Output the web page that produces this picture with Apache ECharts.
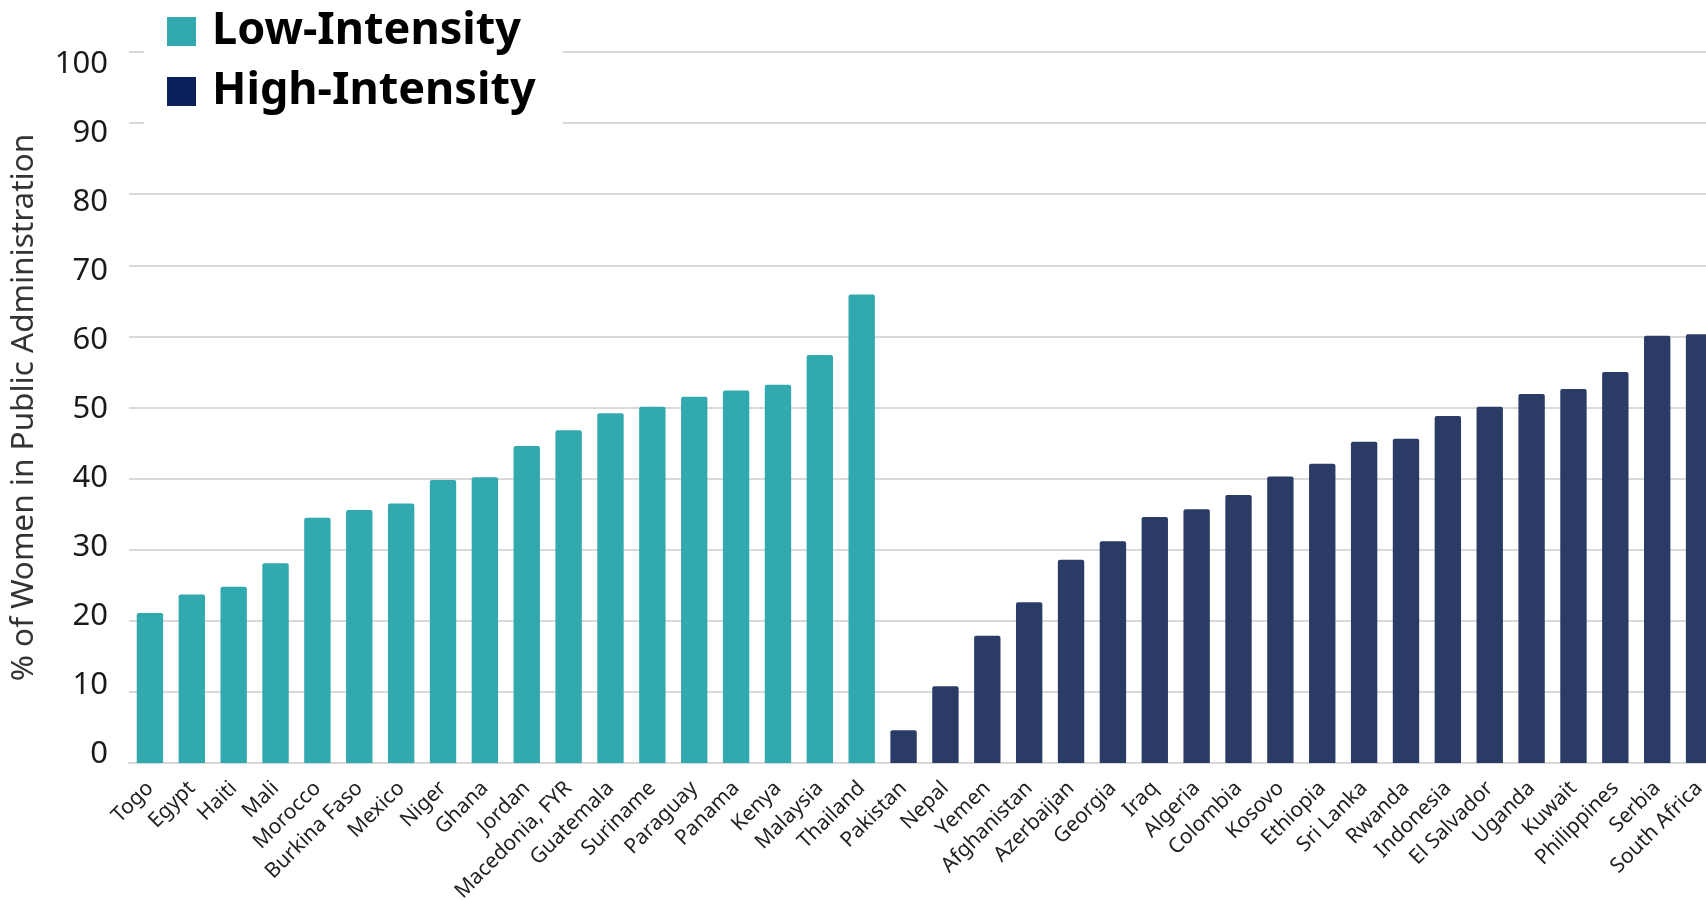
<!DOCTYPE html>
<html>
<head>
<meta charset="utf-8">
<script src="https://cdn.jsdelivr.net/npm/echarts@6/dist/echarts.min.js"></script>
<style>
html,body{margin:0;padding:0;overflow:hidden;background:#fff;}
#chart{width:1720px;height:900px;}
</style>
</head>
<body>
<div id="chart"></div>
<script>
const lowCountries = ['Togo','Egypt','Haiti','Mali','Morocco','Burkina Faso','Mexico','Niger','Ghana','Jordan','Macedonia, FYR','Guatemala','Suriname','Paraguay','Panama','Kenya','Malaysia','Thailand'];
const lowValues = [21.1, 23.7, 24.8, 28.1, 34.5, 35.6, 36.5, 39.8, 40.2, 44.6, 46.8, 49.2, 50.1, 51.5, 52.4, 53.2, 57.4, 65.9];
const highCountries = ['Pakistan','Nepal','Yemen','Afghanistan','Azerbaijan','Georgia','Iraq','Algeria','Colombia','Kosovo','Ethiopia','Sri Lanka','Rwanda','Indonesia','El Salvador','Uganda','Kuwait','Philippines','Serbia','South Africa'];
const highValues = [4.6, 10.8, 17.9, 22.6, 28.6, 31.2, 34.6, 35.7, 37.7, 40.3, 42.1, 45.2, 45.6, 48.8, 50.1, 51.9, 52.6, 55.0, 60.1, 60.3];
const yTicks = [0, 10, 20, 30, 40, 50, 60, 70, 80, 90, 100];
const seriesNames = ['Low-Intensity', 'High-Intensity'];

const categories = lowCountries.concat(highCountries);
const lowData = lowValues.concat(highCountries.map(() => '-'));
const highData = lowCountries.map(() => '-').concat(highValues);

const FONT = 'Noto Sans';
const chart = echarts.init(document.getElementById('chart'), null, {renderer: 'canvas'});
chart.setOption({
  animation: false,
  backgroundColor: '#ffffff',
  grid: [
    {left: 129, right: 0, top: 52, bottom: 137, containLabel: false, outerBoundsMode: 'none'},
    {left: 129, right: 0, top: 64, bottom: 146, containLabel: false, outerBoundsMode: 'none'}
  ],
  legend: {
    orient: 'vertical',
    left: 144,
    top: 0,
    padding: [8, 27, 20, 23],
    backgroundColor: '#ffffff',
    itemWidth: 29,
    itemHeight: 29,
    itemGap: 13,
    selectedMode: false,
    textStyle: {fontFamily: FONT, fontWeight: 'bold', fontSize: 45, color: '#000', lineHeight: 29, padding: [18, 0, 0, 11]},
    data: [
      {name: seriesNames[0], icon: 'rect', itemStyle: {color: '#31A9AE'}},
      {name: seriesNames[1], icon: 'rect', itemStyle: {color: '#0B1F5A'}}
    ]
  },
  xAxis: [
    {
      type: 'category',
      gridIndex: 0,
      data: categories,
      axisLine: {show: true, lineStyle: {color: '#d9d9d9', width: 2}},
      axisTick: {show: false},
      axisLabel: {interval: 0, rotate: 45, fontFamily: FONT, fontSize: 21, color: '#222', margin: 22}
    },
    {type: 'value', gridIndex: 1, show: false, min: 0, max: 1}
  ],
  yAxis: [
    {
      type: 'value',
      gridIndex: 0,
      min: 0,
      max: 100,
      interval: 10,
      name: '% of Women in Public Administration',
      nameLocation: 'middle',
      nameGap: 89,
      nameTextStyle: {fontFamily: FONT, fontSize: 31.5, color: '#333'},
      axisLine: {show: false},
      axisTick: {show: false},
      splitLine: {lineStyle: {color: '#d9d9d9', width: 2}},
      axisLabel: {show: false}
    },
    {
      type: 'value',
      gridIndex: 1,
      min: 0,
      max: 100,
      interval: 10,
      axisLine: {show: false},
      axisTick: {show: false},
      splitLine: {show: false},
      axisLabel: {fontFamily: FONT, fontSize: 31, color: '#1a1a1a', margin: 21,
        formatter: v => yTicks.indexOf(v) >= 0 ? String(v) : ''}
    }
  ],
  series: [
    {name: seriesNames[0], type: 'bar', xAxisIndex: 0, yAxisIndex: 0, data: lowData, barWidth: '63%', barGap: '-100%',
     itemStyle: {color: '#31A9AE', borderRadius: [2, 2, 0, 0]}},
    {name: seriesNames[1], type: 'bar', xAxisIndex: 0, yAxisIndex: 0, data: highData, barWidth: '63%', barGap: '-100%',
     itemStyle: {color: '#2A3B66', borderRadius: [2, 2, 0, 0]}}
  ]
});
</script>
</body>
</html>
